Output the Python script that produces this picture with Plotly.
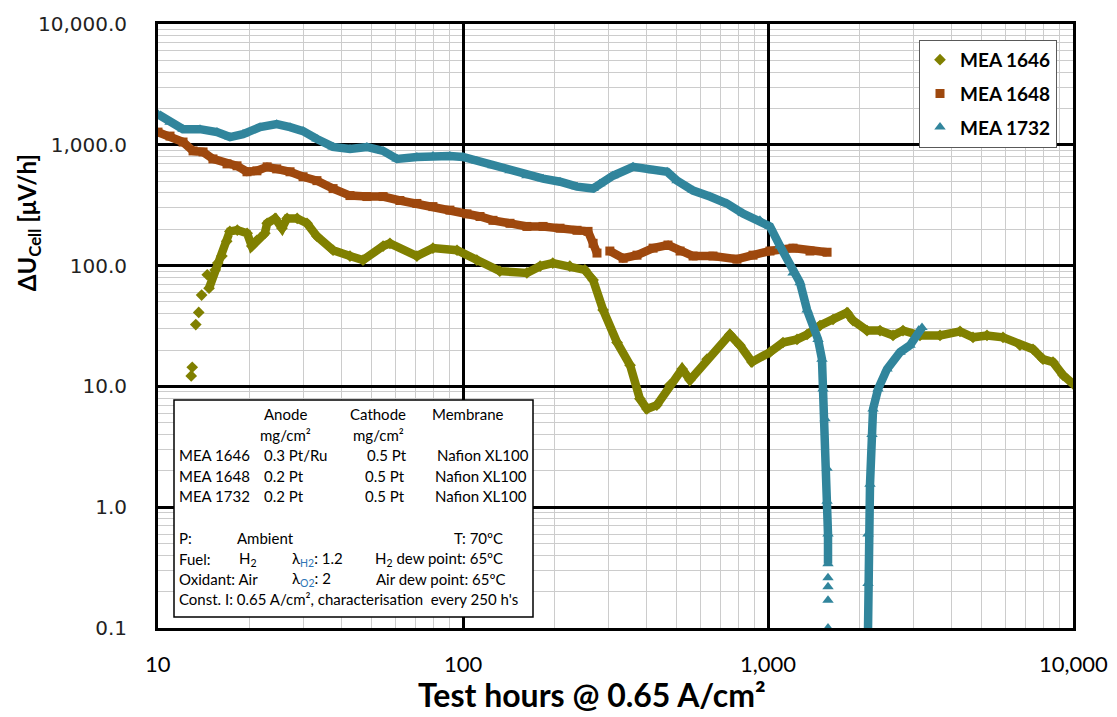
import math
import plotly.graph_objects as go

# ---------------- data (hours @ 0.65 A/cm², voltage decay rate in µV/h) ----------------
# None entries break the connecting band where the samples are sparse
mea1646_hours = [12.85, 12.85, 12.95, 13.1, 13.3, 13.4, 13.6, 13.75, 13.9, 14.2, 14.5, 14.6, 14.7,
                 15.4, 15.7, 16.2, 16.8, 17.2, 18.2, 19.6, 20.3, 21.1, 22.4, 22.8, 24.2, 25.5,
                 26.5, 28.6, 30.8, 33.2, 37.5, 42.6, 47.0, 54.7, 57.6, 70.6, 79.7, 95.6, 111,
                 132, 162, 179, 197, 224, 251, 267, 288, 320, 353, 380, 401, 432, 477, 523,
                 555, 631, 750, 809, 886, 1015, 1120, 1245, 1343, 1481, 1634, 1815, 1900, 2112,
                 2329, 2570, 2771, 3150, 3664, 4262, 4700, 5224, 5896, 6700, 7394, 7973, 8600,
                 9270, 10000]
mea1646_rate = [12.2, None, 14.4, None, 32.5, None, 41, None, 57, None, 84, None, 65,
                92, 105, 120, 159, 192, 197, 185, 145, 162, 185, 224, 246, 204,
                246, 246, 224, 175, 134, 120, 111, 145, 153, 120, 139.5, 134, 111,
                90, 87, 99, 105, 99, 92, 76, 43, 23.1, 15, 7.9, 6.5, 7.0, 10.3, 13.9,
                11.3, 16.8, 26.9, 21.9, 15.9, 19.2, 23.1, 24.5, 26.9, 31.9, 35.8, 40.8, 35.1, 29.0,
                29.0, 26.4, 29.0, 26.4, 26.4, 28.5, 25.5, 26.4, 25.5, 21.9, 20.3, 16.8, 15.9,
                12.4, 10.5]

mea1648_hours = [10, 10.95, 12.08, 13.03, 14.05, 15.14, 16.84, 18.16, 19.58, 21.1, 22.8, 24.5,
                 27.1, 29.9, 33.2, 37.5, 42.6, 48.4, 54.7, 62.1, 70.6, 79.7, 90.6, 103, 113.7,
                 125.4, 142.6, 162, 183, 208, 236.5, 257, 267, 275, 290, 303, 335, 372, 420,
                 470, 515, 568, 660, 791, 893, 1015, 1208, 1373, 1562]
mea1648_rate = [1274, 1181, 1054, 890, 873, 764, 695, 670, 598, 609, 657, 632,
                598, 544, 505, 434, 380, 373, 373, 346, 327, 308, 288, 268, 255,
                237, 224, 211, 211, 204, 196, 192, 153, 127, None, 132, 115, 122, 139.5,
                148, 132, 120, 120, 113, 122, 132, 139.5, 132, 129]

mea1732_hours = [10, 10.95, 12.08, 13.73, 15.61, 17.22, 19.0, 21.6, 24.5, 27.1, 29.9, 33.2,
                 37.5, 42.6, 48.4, 54.7, 60.8, 70.6, 79.7, 90.6, 100, 111, 125.4, 142.6, 162,
                 183, 208, 236.5, 267, 281, 310, 361, 420, 467, 503, 568, 645, 733, 828, 941,
                 1015, 1095, 1208, 1274, 1343, 1459, 1503, 1515, 1538, 1562, 1562, 1573, 1573,
                 1573, 1573, 1573, 1573, 1573, 1573, 1573, 1573, 1800,
                 2128, 2128, 2128, 2160, 2193, 2210, 2295, 2456, 2710, 2922, 3198]
mea1732_rate = [1790, 1539, 1348, 1348, 1274, 1159, 1227, 1400, 1482, 1400, 1298, 1116,
                960, 924, 960, 890, 764, 794, 809, 809, 794, 736, 670, 609, 554,
                524, 495, 450, 434, 477, 554, 657, 609, 598, 505, 418, 373, 327, 270, 237,
                211, 145, 87, 72, 43, 24.5, 16.8, 9.5, 5.4, 2.1, 1.12, 0.6, 0.34,
                None, 0.26, None, 0.22, None, 0.17, None, 0.1, None,
                0.1, 0.234, 0.6, 1.55, 4.0, 6.5, 9.5, 13.9, 19.2, 21.9, 30.7]

series_names = ["MEA 1646", "MEA 1648", "MEA 1732"]
series_colors = ["#808000", "#9e480e", "#31859c"]
series_symbols = ["diamond", "square", "triangle-up"]

x_tickvals = [10, 100, 1000, 10000]
x_ticktext = ["10", "100", "1,000", "10,000"]
y_tickvals = [0.1, 1, 10, 100, 1000, 10000]
y_ticktext = ["0.1", "1.0", "10.0", "100.0", "1,000.0", "10,000.0"]

# ---------------- layout geometry ----------------
W, H = 1117, 717
ML, MR, MT, MB = 158, 44, 19, 89
PW, PH = W - ML - MR, H - MT - MB


def px(x):
    """pixel column -> paper x"""
    return (x - ML) / PW


def py(y):
    """pixel row -> paper y"""
    return (H - MB - y) / PH


fig = go.Figure()

all_series = [(mea1646_hours, mea1646_rate), (mea1648_hours, mea1648_rate), (mea1732_hours, mea1732_rate)]
for (hrs, rate), name, col, sym in zip(all_series, series_names, series_colors, series_symbols):
    # dense sampling appears as a continuous thick band
    fig.add_trace(go.Scatter(x=hrs, y=rate, mode="lines", connectgaps=False,
                             line=dict(color=col, width=8.5), showlegend=False,
                             hoverinfo="skip", legendgroup=name))
    fig.add_trace(go.Scatter(x=hrs, y=rate, mode="markers", name=name, legendgroup=name,
                             marker=dict(symbol=sym, size=9 if sym != "triangle-up" else 10,
                                         color=col, line=dict(width=0))))

axis_common = dict(
    type="log",
    showline=True, linecolor="black", linewidth=3, mirror=True,
    showgrid=True, gridcolor="black", gridwidth=2.5,
    zeroline=False,
    minor=dict(showgrid=True, gridcolor="#cccccc", gridwidth=1, dtick="D1", ticks=""),
)

# x tick labels are placed as annotations below the frame
fig.update_xaxes(range=[1, 4], tickvals=x_tickvals, showticklabels=False, ticks="",
                 **axis_common)
fig.update_yaxes(range=[-1, 4], tickvals=y_tickvals, ticktext=y_ticktext,
                 tickfont=dict(family="DejaVu Sans", size=20, color="#222222"),
                 ticks="outside", tickcolor="rgba(0,0,0,0)", ticklen=24, **axis_common)

for v, lab in zip(x_tickvals, x_ticktext):
    fig.add_annotation(xref="x", yref="paper", x=math.log10(v), y=py(664), text=lab,
                       showarrow=False, xanchor="center", yanchor="middle",
                       font=dict(family="Lato", size=22, color="black"))

# info table box
fig.add_shape(type="rect", xref="paper", yref="paper",
              x0=px(174), x1=px(533), y0=py(617), y1=py(398),
              fillcolor="white", line=dict(color="black", width=1.5), layer="above")

blue = "#2e75b6"
info_cells = [
    (285, 412, "Anode", "center"), (378, 412, "Cathode", "center"), (468, 412, "Membrane", "center"),
    (285, 433, "mg/cm²", "center"), (378, 433, "mg/cm²", "center"),
    (177, 454, "MEA 1646", "left"), (262, 454, "0.3 Pt/Ru", "left"), (365, 454, "0.5 Pt", "left"), (435, 454, "Nafion XL100", "left"),
    (177, 475, "MEA 1648", "left"), (262, 475, "0.2 Pt", "left"), (363, 475, "0.5 Pt", "left"), (433, 475, "Nafion XL100", "left"),
    (177, 495, "MEA 1732", "left"), (262, 495, "0.2 Pt", "left"), (363, 495, "0.5 Pt", "left"), (433, 495, "Nafion XL100", "left"),
    (177, 537, "P:", "left"), (235, 537, "Ambient", "left"), (452, 537, "T: 70ºC", "left"),
    (177, 558, "Fuel:", "left"), (237, 558, "H<sub>2</sub>", "left"),
    (290, 558, f"λ<sub><span style='color:{blue}'>H2</span></sub>: 1.2", "left"),
    (373, 558, "H<sub>2</sub> dew point: 65ºC", "left"),
    (177, 579, "Oxidant: Air", "left"),
    (290, 579, f"λ<sub><span style='color:{blue}'>O2</span></sub>: 2", "left"),
    (374, 579, "Air dew point: 65ºC", "left"),
    (177, 599, "Const. I: 0.65 A/cm², characterisation  every 250 h's", "left"),
]
for x, y, txt, anchor in info_cells:
    fig.add_annotation(xref="paper", yref="paper", x=px(x), y=py(y), text=txt,
                       showarrow=False, xanchor=anchor, yanchor="middle",
                       font=dict(family="Lato", size=15, color="black"))

# axis titles
fig.add_annotation(xref="paper", yref="paper", x=px(592), y=py(695),
                   text="Test hours @ 0.65 A/cm²", showarrow=False,
                   xanchor="center", yanchor="middle",
                   font=dict(family="Lato", size=32, color="black", weight="bold"))
fig.add_annotation(xref="paper", yref="paper", x=px(28), y=py(220),
                   text="ΔU<sub>Cell</sub> [μV/h]", showarrow=False, textangle=-90,
                   xanchor="center", yanchor="middle",
                   font=dict(family="Lato", size=24, color="black", weight="bold"))

fig.update_layout(
    width=W, height=H,
    margin=dict(l=ML, r=MR, t=MT, b=MB),
    paper_bgcolor="white", plot_bgcolor="white",
    legend=dict(x=px(919), y=py(35), xanchor="left", yanchor="top",
                bgcolor="white", bordercolor="#595959", borderwidth=1,
                font=dict(family="Lato", size=19, color="black", weight="bold"),
                traceorder="grouped", tracegroupgap=6, itemwidth=30),
)

fig.write_html("out.html")
